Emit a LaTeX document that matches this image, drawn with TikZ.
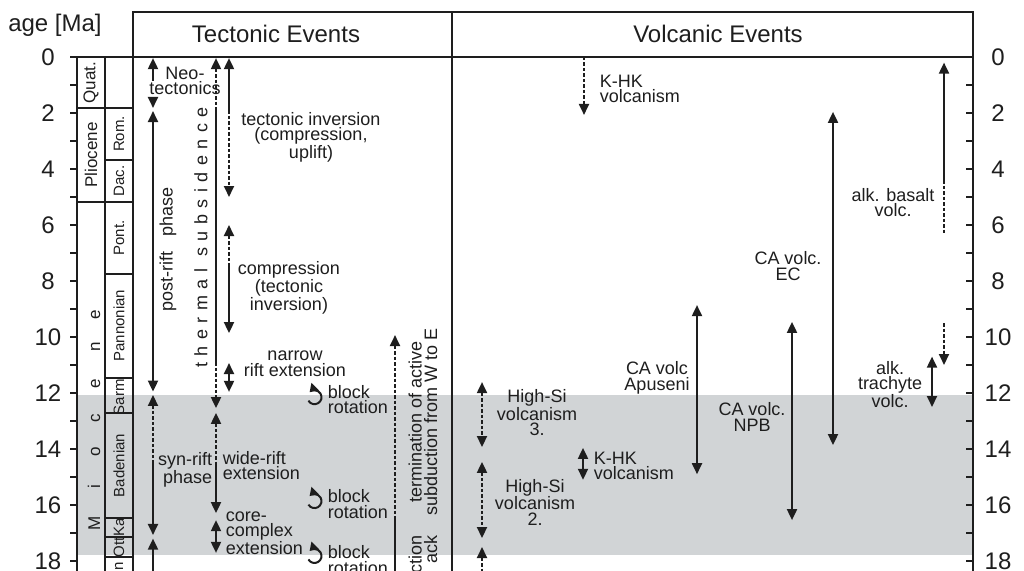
\documentclass[tikz,border=0pt]{standalone}
\usepackage{fontspec}
\setmainfont{Liberation Sans}
\usetikzlibrary{arrows.meta}

\definecolor{band}{RGB}{209,212,214}
\definecolor{ink}{RGB}{30,30,30}
\newcommand{\lblfont}{\fontsize{18}{15.5}\selectfont}
\newcommand{\axfont}{\fontsize{24}{28}\selectfont}
\newcommand{\stfont}{\fontsize{15}{15}\selectfont}
\newcommand{\epfont}{\fontsize{17}{17}\selectfont}

\begin{document}
\begin{tikzpicture}[
  x=1pt, y=-28pt, ink, line width=1.9pt,
  >={Triangle[width=10pt,length=11pt]},
  frame/.style={line width=2pt},
  dsh/.style={dash pattern=on 3.5pt off 2pt},
  lbl/.style={font=\lblfont, align=center, inner sep=0pt},
  stage/.style={font=\stfont, rotate=90, inner sep=0pt},
  epoch/.style={font=\epfont, rotate=90, inner sep=0pt},
  axlbl/.style={font=\axfont, inner sep=0pt},
  rot/.style={line width=2pt, -{Triangle[width=10pt,length=8pt]}}
]
  \useasboundingbox (0,-2.0357) rectangle (1024,18.357);
  \clip (0,-2.0357) rectangle (1024,18.357);

  % syn-rift band
  \fill[band] (77,12.07) rectangle (973,17.79);

  % frame and headings
  \draw[frame] (133,-1.607) rectangle (973,0);
  \draw[frame] (452,-1.607) -- (452,18.5);
  \draw[frame] (133,0) -- (133,18.5);
  \draw[frame] (973,0) -- (973,18.5);
  \draw[frame] (70,0) -- (133,0);
  \node[axlbl] (hdtec) at (276,-0.82) {Tectonic Events};
  \node[axlbl] (hdvol) at (718,-0.82) {Volcanic Events};
  \node[axlbl] (agelbl) at (55,-1.14) {age [Ma]};

  % age axes
  \foreach \a in {0,...,18} {
    \draw[frame] (70,\a) -- (77,\a);
    \draw[frame] (966,\a) -- (973,\a);
  }
  \foreach \a in {0,2,...,18} {
    \node[axlbl] (lft\a) at (48,\a) {\a};
    \node[axlbl] (rgt\a) at (998,\a) {\a};
  }

  % stratigraphic columns
  \draw[frame] (77,0) -- (77,18.5);
  \draw[frame] (105,0) -- (105,18.5);
  \draw[frame] (77,1.82) -- (133,1.82);
  \draw[frame] (77,5.18) -- (133,5.18);
  \foreach \b in {3.68,7.75,11.45,12.71,16.46,17.14,17.86}
    \draw[frame] (105,\b) -- (133,\b);

  \node[epoch] (quat) at (91,0.91) {Quat.};
  \node[epoch] (plio) at (91,3.5) {Pliocene};
  \foreach \l/\a [count=\i] in {M/16.64,i/15.36,o/14.11,c/12.89,e/11.68,n/10.36,e/9.21}
    \node[epoch, anchor=base] (mio\i) at (100,\a) {\l};

  \node[stage] (rom) at (119,2.75) {Rom.};
  \node[stage] (dac) at (119,4.43) {Dac.};
  \node[stage] (pont) at (119,6.46) {Pont.};
  \node[stage] (pann) at (119,9.6) {Pannonian};
  \begin{scope}
    \clip (105,11.45) rectangle (133,12.71);
    \node[stage] (sarm) at (119,12.08) {Sarm.};
  \end{scope}
  \node[stage] (bad) at (119,14.59) {Badenian};
  \node[stage] (karp) at (119,16.8) {Ka};
  \node[stage] (ott) at (119,17.5) {Ott};
  \node[stage, anchor=east] (egg) at (119,18.0) {n};

  % tectonic events
  \draw[->] (153,0.85) -- (153,0.04);
  \draw[dsh,->] (153,1.45) -- (153,1.82);
  \node[lbl] (neo) at (185,0.86) {Neo-\\tectonics};
  \draw[<->] (153,1.93) -- (153,11.95);
  \node[lbl, rotate=90] (postrift) at (168,6.875) {post-rift\hspace{15pt}phase};
  \draw[dsh,<-] (153,12.07) -- (153,14.4);
  \draw[->] (153,14.4) -- (153,17.07);
  \node[lbl, align=right, anchor=east] (synrift) at (213,14.75) {syn-rift\\phase};
  \draw[<-] (153,17.2) -- (153,18.6);

  \draw[dsh,<-] (216,0.04) -- (216,1.8);
  \draw (216,1.8) -- (216,10.9);
  \draw[dsh,->] (216,10.9) -- (216,12.54);
  \node[lbl, rotate=90] (thsub) at (201,6.45)
    {\addfontfeature{LetterSpace=36}thermal\hspace{12pt}subsidence};
  \draw[dsh,<-] (216,12.71) -- (216,14.45);
  \draw[->] (216,14.45) -- (216,16.29);
  \node[lbl, align=left, anchor=west] (widerift) at (222,14.6) {wide-rift\\extension};
  \draw[<->] (216,16.54) -- (216,17.71);
  \node[lbl, align=left, anchor=west] (corecx) at (225,17.0) {core-\\complex\\extension};

  \draw[<-] (229,0.04) -- (229,1.9);
  \draw[dsh,->] (229,1.9) -- (229,5.0);
  \node[lbl] (inv) at (311,2.86) {tectonic inversion\\(compression,\\uplift)};
  \draw[dsh,<-] (229,6.0) -- (229,7.5);
  \draw[->] (229,7.5) -- (229,9.86);
  \node[lbl] (compr) at (289,8.25) {compression\\(tectonic\\inversion)};
  \draw[<->] (229,10.93) -- (229,11.96);
  \node[lbl] (narrow) at (295,10.96) {narrow\\rift extension};

  \foreach \a [count=\i] in {12.15,15.86,17.82}
    \draw[rot] (314.5,\a) ++(-150:7pt) arc[start angle=-150, end angle=135, radius=7pt];
  \foreach \a [count=\i] in {12.23,15.96,17.96}
    \node[lbl, align=left, anchor=west] (blk\i) at (327,\a) {block\\rotation};

  \draw[dsh,<-] (395,9.93) -- (395,16.5);
  \draw (395,16.5) -- (395,18.6);
  \node[lbl, rotate=90] (term) at (423,13.04) {termination of active\\subduction from W to E};
  \node[lbl, rotate=90, align=right, anchor=east] (subtail) at (423,17.07) {ction\\ack};

  % volcanic events
  \draw[dsh,->] (584,0) -- (584,2.07);
  \node[lbl, align=left, anchor=west] (khk1) at (599,1.14) {K-HK\\volcanism};
  \draw[dsh,<->] (482,11.61) -- (482,13.93);
  \node[lbl] (hisi3) at (537,12.71) {High-Si\\volcanism\\3.};
  \draw[dsh,<->] (482,14.46) -- (482,17.18);
  \node[lbl] (hisi2) at (535,15.9) {High-Si\\volcanism\\2.};
  \draw[dsh,<-] (482,17.5) -- (482,18.6);
  \draw[<->] (583,13.96) -- (583,15.1);
  \node[lbl, align=left, anchor=west] (khk2) at (593,14.6) {K-HK\\volcanism};
  \draw[<->] (697,8.86) -- (697,14.9);
  \node[lbl] (apus) at (657,11.46) {CA volc\\Apuseni};
  \draw[<->] (792,9.46) -- (792,16.54);
  \node[lbl] (npb) at (752,12.85) {CA volc.\\NPB};
  \draw[<->] (833,1.96) -- (833,13.86);
  \node[lbl] (ec) at (788,7.46) {CA volc.\\EC};
  \draw[->] (944,4.4) -- (944,0.2);
  \draw[dsh] (944,4.4) -- (944,6.3);
  \node[lbl] (basalt) at (893,5.2) {alk. basalt\\volc.};
  \draw[dsh,->] (944,9.5) -- (944,11.0);
  \draw[<->] (932,10.7) -- (932,12.5);
  \node[lbl] (trach) at (890,11.7) {alk.\\trachyte\\volc.};
\end{tikzpicture}
\end{document}
